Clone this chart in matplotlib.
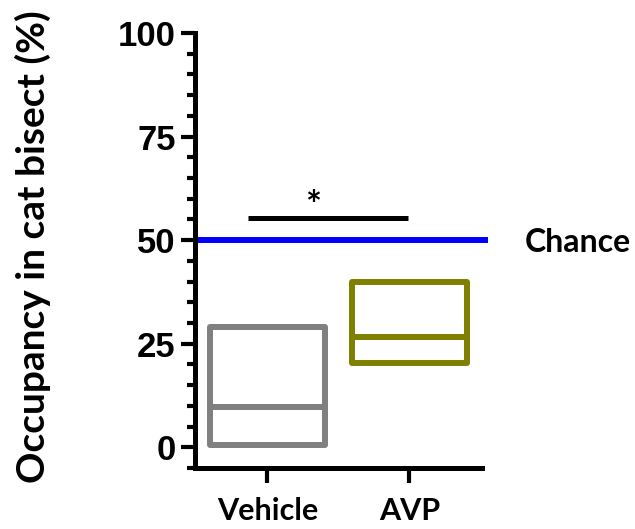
import matplotlib
matplotlib.use("Agg")
import matplotlib.pyplot as plt
from matplotlib.ticker import MultipleLocator

# values
groups = ['Vehicle', 'AVP']
box_low = [0.5, 20.3]
box_mid = [9.7, 26.6]
box_high = [29.0, 39.9]
box_colors = ['#808080', '#808000']
chance = 50
sig_y = 55.3

fig = plt.figure(figsize=(6.35, 5.29), dpi=100)
ax = fig.add_axes([0.307, 0.1153, 0.452, 0.8223])

xpos = list(range(len(groups)))
w = 0.81
heights = [h - l for h, l in zip(box_high, box_low)]
bars = ax.bar(xpos, heights, bottom=box_low, width=w, fill=False,
              edgecolor=box_colors, linewidth=4.3)
for b in bars:
    b.set_joinstyle('round')
for x, m, c in zip(xpos, box_mid, box_colors):
    ax.plot([x - w / 2, x + w / 2], [m, m], color=c, lw=4.3, solid_capstyle='butt')

# chance line
ax.plot([-0.5, 1.55], [chance, chance], color='#0000FF', lw=4.3, clip_on=False,
        solid_capstyle='butt')
ax.text(1.81, chance - 0.5, 'Chance', fontsize=23, fontweight='bold',
        family='Lato', va='center', ha='left')

# significance bar
ax.plot([-0.14, 0.99], [sig_y, sig_y], color='black', lw=3.6, solid_capstyle='butt')
ax.text(0.32, sig_y + 2.8, '*', fontsize=27, fontweight='bold', family='Lato',
        ha='center', va='center')

ax.set_xlim(-0.51, 1.51)
ax.set_ylim(-5, 100)
ax.set_xticks(xpos)
ax.set_xticklabels(groups, fontsize=22, fontweight='bold', family='Lato')
ax.set_yticks([0, 25, 50, 75, 100])
ax.yaxis.set_minor_locator(MultipleLocator(5))
for lab in ax.get_yticklabels():
    lab.set_fontsize(25)
    lab.set_fontweight('bold')
    lab.set_family('Liberation Sans')

ax.spines['top'].set_visible(False)
ax.spines['right'].set_visible(False)
ax.spines['left'].set_linewidth(3.6)
ax.spines['bottom'].set_linewidth(3.6)
ax.tick_params(axis='y', which='major', length=10, width=3, pad=4)
ax.tick_params(axis='y', which='minor', length=6, width=3)
ax.tick_params(axis='x', which='major', length=11, width=3, pad=10)

ax.set_ylabel('Occupancy in cat bisect (%)', fontsize=28, fontweight='bold',
              family='Lato')
ax.yaxis.set_label_coords(-0.50, 0.508)

fig.savefig('out.png', dpi=100)
